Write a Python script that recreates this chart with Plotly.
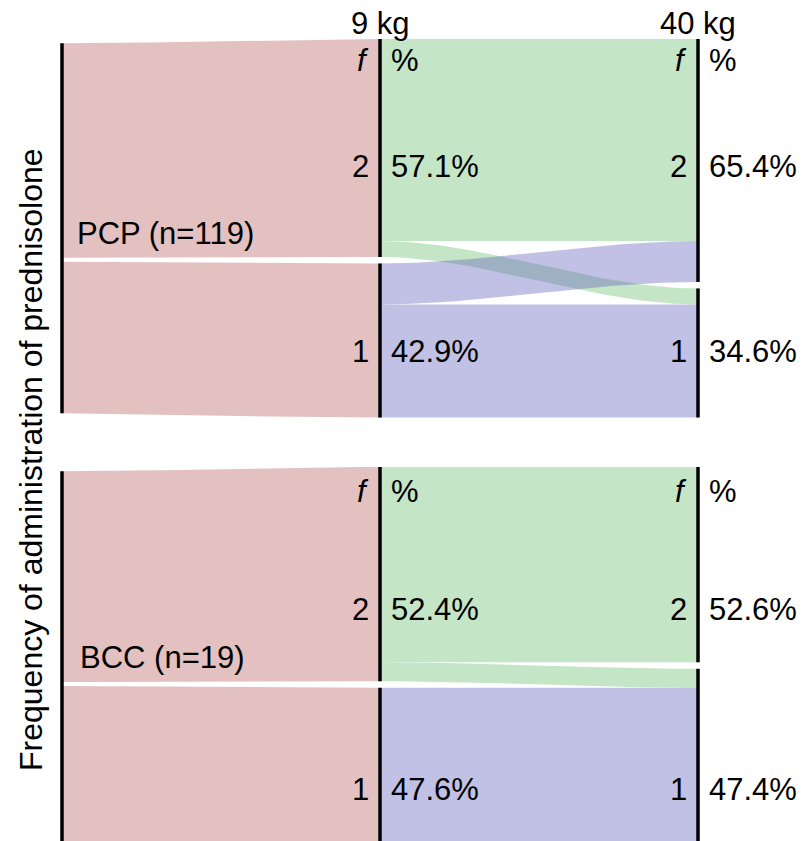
import numpy as np
import plotly.graph_objects as go

# ---------------- data ----------------
groups = ["PCP (n=119)", "BCC (n=19)"]
stages = ["9 kg", "40 kg"]
levels = ["2", "1"]                      # top to bottom
pct_9kg = [["57.1%", "42.9%"], ["52.4%", "47.6%"]]
pct_40kg = [["65.4%", "34.6%"], ["52.6%", "47.4%"]]
# flow share (% of panel) from 9 kg level -> 40 kg level: [2->2, 2->1, 1->2, 1->1]
flows_pcp = [54.3, 4.3, 11.0, 30.4]
flows_bcc = [52.5, 5.1, 0.0, 42.4]
flows = [flows_pcp, flows_bcc]

# ---------------- style ----------------
W, H = 802, 841
X0_PX, DX_PX = 62, 318          # pixel of stage 0 and stage spacing
Y0_PX, UNIT = 39, 3.72          # pixel of y=0 and px per unit
PANEL_OFF = [0.0, 115.05]       # panel offsets (units)
GAP = 1.75                      # gap between levels (units)
LEFT_GAP = 1.08
LEFT_SCALE = 0.9838
FONT = "Liberation Sans, Arial, sans-serif"
FS = 31
PINK = "rgba(188,100,100,0.4)"
GREEN = "rgba(108,190,112,0.4)"
PURPLE = "rgba(100,100,190,0.4)"
LVL_COL = [GREEN, PURPLE]
LW = 3.5
# label rows inside each panel (units from panel top): f/% row, level "2", level "1"
ROWS = [[5.9, 34.4, 84.1], [6.5, 38.2, 86.8]]
GROUP_ROW = [52.2, 51.1]
GROUP_SHIFT = [13, 16]

fig = go.Figure()


def smooth(t):
    return t * t * (3 - 2 * t)


def band(x0, x1, a0, b0, a1, b1, color):
    t = np.linspace(0, 1, 80)
    s = smooth(t)
    xs = x0 + (x1 - x0) * t
    top = a0 + (a1 - a0) * s
    bot = b0 + (b1 - b0) * s
    X = np.concatenate([xs, xs[::-1]])
    Y = np.concatenate([top, bot[::-1]])
    fig.add_trace(go.Scatter(x=X, y=Y, fill="toself", fillcolor=color, mode="lines",
                             line=dict(width=0), hoverinfo="skip", showlegend=False))


def vline(x, y0, y1):
    fig.add_trace(go.Scatter(x=[x, x], y=[y0, y1], mode="lines",
                             line=dict(color="black", width=LW), hoverinfo="skip", showlegend=False))


ann = []
for p, fl in enumerate(flows):
    off = PANEL_OFF[p]
    f22, f21, f12, f11 = fl
    n9 = [f22 + f21, f12 + f11]
    n40 = [f22 + f12, f21 + f11]
    # 9 kg node extents
    t9 = [off, off + n9[0] + GAP]
    b9 = [t9[0] + n9[0], t9[1] + n9[1]]
    # 40 kg node extents
    t40 = [off, off + n40[0] + GAP]
    b40 = [t40[0] + n40[0], t40[1] + n40[1]]
    # left node (stage 0)
    centre = (t9[0] + b9[1]) / 2
    tot_l = LEFT_SCALE * (n9[0] + n9[1]) + LEFT_GAP
    tl0 = centre - tot_l / 2
    tl = [tl0, tl0 + LEFT_SCALE * n9[0] + LEFT_GAP]
    bl = [tl[0] + LEFT_SCALE * n9[0], tl[1] + LEFT_SCALE * n9[1]]

    # pink bands: group -> 9 kg levels
    for k in range(2):
        band(0, 1, tl[k], bl[k], t9[k], b9[k], PINK)

    # 9 kg -> 40 kg flows
    fm = [[f22, f21], [f12, f11]]
    out_cur = [t9[0], t9[1]]
    in_cur = [t40[0], t40[1]]
    segs = []
    for i in range(2):
        for j in range(2):
            v = fm[i][j]
            segs.append((i, out_cur[i], out_cur[i] + v, in_cur[j], in_cur[j] + v, v))
            out_cur[i] += v
            in_cur[j] += v
    for i, a0, b0, a1, b1, v in segs:
        if v > 0:
            band(1, 2, a0, b0, a1, b1, LVL_COL[i])

    # black node lines
    vline(0, tl[0], bl[1])
    for k in range(2):
        vline(1, t9[k], b9[k])
        vline(2, t40[k], b40[k])

    # labels
    r = ROWS[p]
    lab_rows = [off + r[0], off + r[1], off + r[2]]
    for sx, pcts in [(1, pct_9kg[p]), (2, pct_40kg[p])]:
        left_txt = ["<i>f</i>"] + levels
        right_txt = ["%"] + pcts
        for yy, lt, rt in zip(lab_rows, left_txt, right_txt):
            ann.append(dict(x=sx, y=yy, xref="x", yref="y", text=lt, showarrow=False,
                            xanchor="right", yanchor="middle", xshift=-9,
                            font=dict(family=FONT, size=FS, color="black")))
            ann.append(dict(x=sx, y=yy, xref="x", yref="y", text=rt, showarrow=False,
                            xanchor="left", yanchor="middle", xshift=9,
                            font=dict(family=FONT, size=FS, color="black")))
    # group label
    ann.append(dict(x=0, y=off + GROUP_ROW[p], xref="x", yref="y", text=groups[p], showarrow=False,
                    xanchor="left", yanchor="middle", xshift=GROUP_SHIFT[p],
                    font=dict(family=FONT, size=FS, color="black")))

# stage headers
for sx, s in zip([1, 2], stages):
    ann.append(dict(x=sx, y=-4.2, xref="x", yref="y", text=s, showarrow=False,
                    xanchor="center", yanchor="middle",
                    font=dict(family=FONT, size=FS, color="black")))

# y-axis title
ann.append(dict(x=31 / W, y=1 - 460 / H, xref="paper", yref="paper",
                text="Frequency of administration of prednisolone", showarrow=False,
                textangle=-90, xanchor="center", yanchor="middle",
                font=dict(family=FONT, size=32, color="black")))

xr = [-X0_PX / DX_PX, (W - X0_PX) / DX_PX]
yr = [(H - Y0_PX) / UNIT, -Y0_PX / UNIT]

fig.update_layout(
    width=W, height=H,
    margin=dict(l=0, r=0, t=0, b=0),
    paper_bgcolor="white", plot_bgcolor="white",
    xaxis=dict(range=xr, visible=False, fixedrange=True),
    yaxis=dict(range=yr, visible=False, fixedrange=True),
    annotations=ann,
    showlegend=False,
)

fig.write_html("out.html", config={"displayModeBar": False},
               post_script="document.body.style.margin='0';document.body.style.overflow='hidden';")
